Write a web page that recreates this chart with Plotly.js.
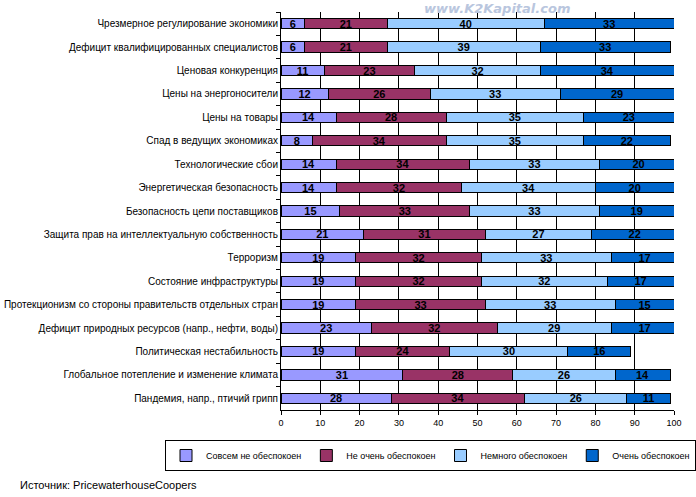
<!DOCTYPE html>
<html><head><meta charset="utf-8">
<script src="https://cdn.plot.ly/plotly-3.0.1.min.js"></script>
<style>html,body{margin:0;padding:0;background:#fff}#chart{width:696px;height:497px}</style>
</head><body><div id="chart"></div>
<script>
const categories = [
  "Чрезмерное регулирование экономики",
  "Дефицит квалифицированных специалистов",
  "Ценовая конкуренция",
  "Цены на энергоносители",
  "Цены на товары",
  "Спад в ведущих экономиках",
  "Технологические сбои",
  "Энергетическая безопасность",
  "Безопасность цепи поставщиков",
  "Защита прав на интеллектуальную собственность",
  "Терроризм",
  "Состояние инфраструктуры",
  "Протекционизм со стороны правительств отдельных стран",
  "Дефицит природных ресурсов (напр., нефти, воды)",
  "Политическая нестабильность",
  "Глобальное потепление и изменение климата",
  "Пандемия, напр., птичий грипп"
];
const notAtAll  = [6, 6, 11, 12, 14, 8, 14, 14, 15, 21, 19, 19, 19, 23, 19, 31, 28];
const notVery   = [21, 21, 23, 26, 28, 34, 34, 32, 33, 31, 32, 32, 33, 32, 24, 28, 34];
const somewhat  = [40, 39, 32, 33, 35, 35, 33, 34, 33, 27, 33, 32, 33, 29, 30, 26, 26];
const very      = [33, 33, 34, 29, 23, 22, 20, 20, 19, 22, 17, 17, 15, 17, 16, 14, 11];
const seriesNames = ["Совсем не обеспокоен", "Не очень обеспокоен", "Немного обеспокоен", "Очень обеспокоен"];
const xTicks = [0, 10, 20, 30, 40, 50, 60, 70, 80, 90, 100];
const sourceText = "Источник: PricewaterhouseCoopers";
const watermark = "www.K2Kapital.com";

const colors = ["#9999FF", "#993366", "#99CCFF", "#0066CC"];
const allSeries = [notAtAll, notVery, somewhat, very];

const traces = allSeries.map((vals, i) => ({
  type: "bar",
  orientation: "h",
  name: seriesNames[i],
  y: categories,
  x: vals,
  text: vals.map(String),
  textposition: "inside",
  insidetextanchor: "middle",
  constraintext: "none",
  textangle: 0,
  textfont: {family: "Liberation Sans, Arial, sans-serif", size: 11, color: "#000", weight: "bold"},
  marker: {color: colors[i], line: {color: "#000", width: 1}},
  hoverinfo: "none"
}));

const plotW = 393, plotH = 398;
const layout = {
  width: 696, height: 497,
  margin: {l: 281, r: 22, t: 12, b: 87},
  barmode: "stack",
  bargap: 0.56,
  paper_bgcolor: "#fff",
  plot_bgcolor: "#fff",
  font: {family: "Liberation Sans, Arial, sans-serif", size: 10, color: "#000"},
  showlegend: true,
  legend: {
    orientation: "h", x: (176 - 281) / plotW, xanchor: "left", y: -(440 - 410) / plotH, yanchor: "top",
    bordercolor: "#000", borderwidth: 1,
    font: {size: 9, family: "Liberation Sans, Arial, sans-serif"},
    itemwidth: 30, traceorder: "normal", tracegroupgap: 0
  },
  xaxis: {
    range: [0, 100], tickvals: xTicks, ticktext: xTicks.map(String),
    showgrid: true, gridcolor: "#000", gridwidth: 1,
    showline: true, linecolor: "#000", linewidth: 1,
    ticks: "outside", ticklen: 4, tickcolor: "#000",
    zeroline: false, fixedrange: true,
    tickfont: {size: 9, family: "Liberation Sans, Arial, sans-serif"}
  },
  yaxis: {
    type: "category", autorange: "reversed",
    showline: true, linecolor: "#000", linewidth: 1,
    ticks: "outside", ticklen: 4, tickcolor: "#000", tickson: "boundaries",
    showgrid: false, fixedrange: true,
    tickfont: {size: 10, family: "Liberation Sans, Arial, sans-serif"}
  },
  annotations: [
    {text: sourceText, xref: "paper", yref: "paper", x: (18 - 281) / plotW, xanchor: "left",
     y: -(485 - 410) / plotH, yanchor: "middle", showarrow: false,
     font: {size: 11, family: "Liberation Sans, Arial, sans-serif", color: "#000"}},
    {text: "<i><b>" + watermark + "</b></i>", xref: "paper", yref: "paper", x: (497 - 281) / plotW, xanchor: "center",
     y: 1 + 12 / plotH, yanchor: "top", showarrow: false, borderpad: 0,
     font: {size: 13, family: "DejaVu Sans, Liberation Sans, sans-serif", color: "#b9c6de"}}
  ]
};

Plotly.newPlot("chart", traces, layout, {displayModeBar: false, staticPlot: true});
</script>
</body></html>
